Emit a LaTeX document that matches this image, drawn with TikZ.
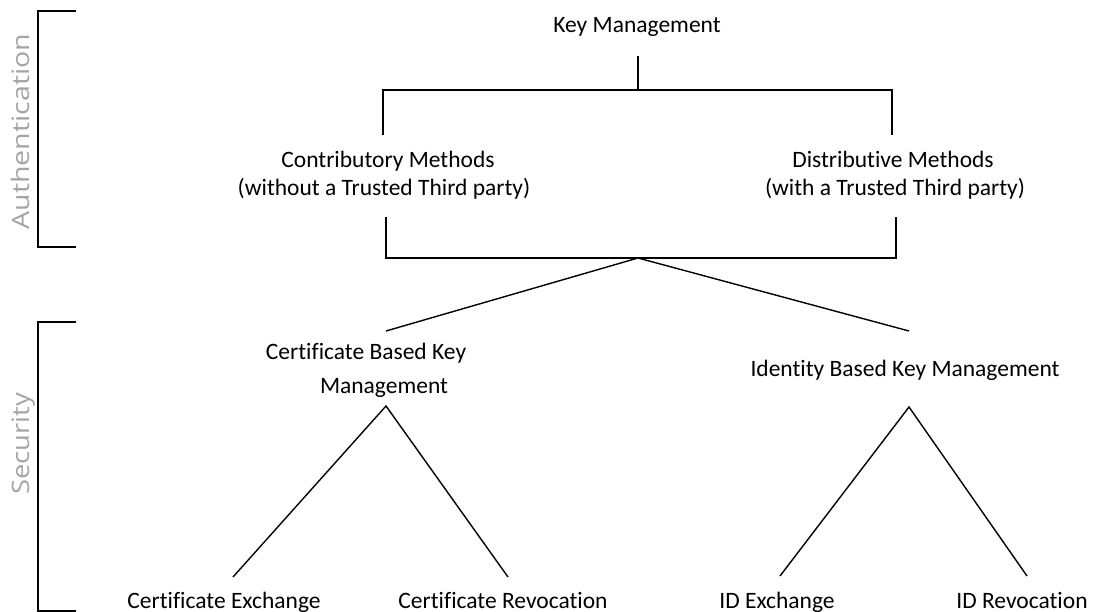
\documentclass[tikz,border=0pt]{standalone}
\usepackage{fontspec}
\setmainfont[Ligatures={NoCommon}]{Carlito}
\newfontfamily\sidefont{Open Sans}
\usepackage{graphicx}
\definecolor{sidegray}{RGB}{165,165,165}
\begin{document}
\begin{tikzpicture}[x=1pt,y=-1pt,
  txt/.style={font=\fontsize{23.5}{28}\selectfont, inner sep=0pt, anchor=base},
  side/.style={font=\sidefont\fontsize{24}{28}\selectfont, text=sidegray, inner sep=0pt, anchor=base, rotate=90},
  bracketline/.style={line width=2pt, line join=miter},
  leg/.style={line width=1.4pt}]
\useasboundingbox (0,0) rectangle (1094,612);

% section brackets on the left
\coordinate (at1) at (76,11.5);
\coordinate (at2) at (38,11.5);
\coordinate (at3) at (38,247);
\coordinate (at4) at (76,247);
\draw[bracketline] (at1) -- (at2) -- (at3) -- (at4);
\node[side] (auth) at (29,131.5) {\scalebox{1.19}[1]{Authentication}};

\coordinate (st1) at (76,322);
\coordinate (st2) at (38,322);
\coordinate (st3) at (38,611);
\coordinate (st4) at (76,611);
\draw[bracketline] (st1) -- (st2) -- (st3) -- (st4);
\node[side] (sec) at (29,444) {\scalebox{1.14}[1]{Security}};

% labels
\node[txt] (km)  at (637,33)  {Key Management};
\node[txt] (cm1) at (388,168) {Contributory Methods};
\node[txt] (cm2) at (384,196) {(without a Trusted Third party)};
\node[txt] (dm1) at (893,168) {Distributive Methods};
\node[txt] (dm2) at (895,196) {(with a Trusted Third party)};
\node[txt] (cb1) at (366,359) {Certificate Based Key};
\node[txt] (cb2) at (384,393) {Management};
\node[txt] (ib)  at (905,376) {Identity Based Key Management};
\node[txt] (ce)  at (224,608) {Certificate Exchange};
\node[txt] (cr)  at (503,608) {Certificate Revocation};
\node[txt] (ie)  at (777,608) {ID Exchange};
\node[txt] (ir)  at (1022,608) {ID Revocation};

% split from Key Management into the two method families
\coordinate (kmtop) at (638,56);
\coordinate (kmj)   at (638,90);
\coordinate (tl)    at (383,90);
\coordinate (tr)    at (892,90);
\coordinate (tlb)   at (383,135);
\coordinate (trb)   at (892,135);
\draw[bracketline] (kmtop) -- (kmj);
\draw[bracketline] (tlb) -- (tl) -- (tr) -- (trb);

% join of the two method families
\coordinate (blt)  at (386,217);
\coordinate (blb)  at (386,258);
\coordinate (brt)  at (896,217);
\coordinate (brb)  at (896,258);
\coordinate (apex) at (638,258);
\draw[bracketline] (blt) -- (blb) -- (brb) -- (brt);

% branches to the two key management schemes
\coordinate (cbt) at (386,331);
\coordinate (ibt) at (909,331);
\draw[leg] (apex) -- (cbt);
\draw[leg] (apex) -- (ibt);

% certificate based subtree
\coordinate (cba) at (386,406);
\coordinate (ceb) at (233,577);
\coordinate (crb) at (508,577);
\draw[leg] (ceb) -- (cba) -- (crb);

% identity based subtree
\coordinate (iba) at (909,407);
\coordinate (ieb) at (780,576);
\coordinate (irb) at (1027,576);
\draw[leg] (ieb) -- (iba) -- (irb);
\end{tikzpicture}
\end{document}
